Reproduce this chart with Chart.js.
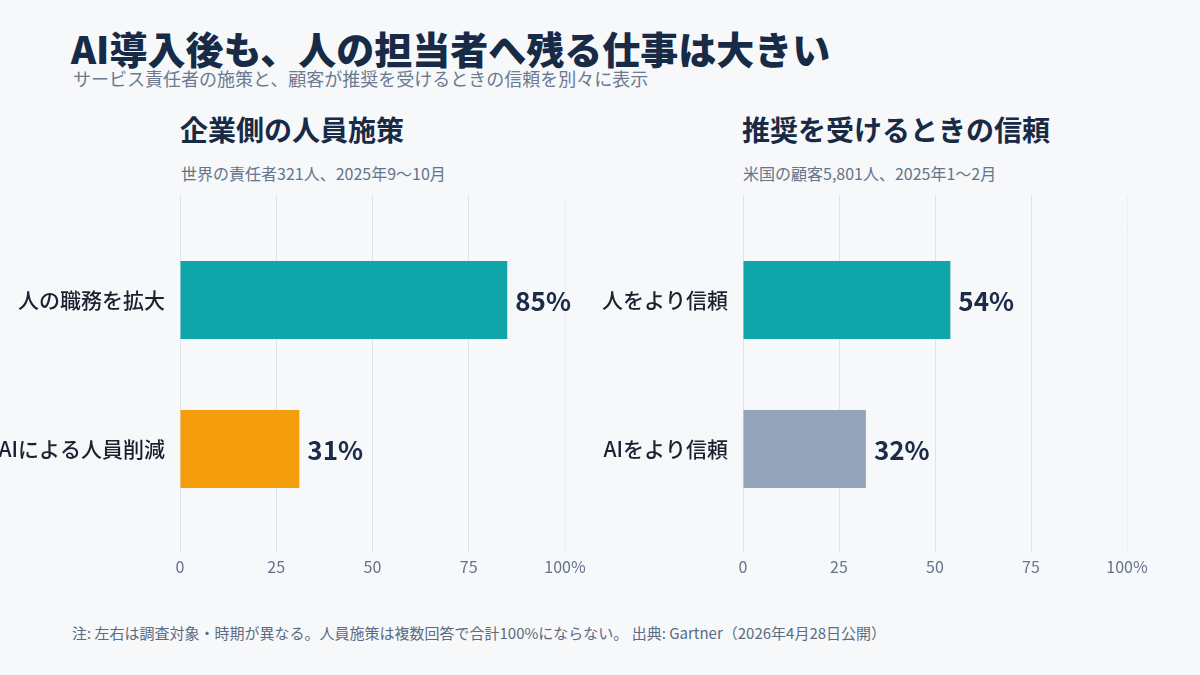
<!DOCTYPE html>
<html lang="ja">
<head>
<meta charset="utf-8">
<script src="https://cdn.jsdelivr.net/npm/chart.js@4.4.1/dist/chart.umd.min.js"></script>
<style>
  html, body { margin: 0; padding: 0; }
  body { width: 1200px; height: 675px; background: #f6f8fa; position: relative; overflow: hidden;
         font-family: "Noto Sans CJK JP", "Noto Sans", sans-serif; }
  .t { position: absolute; white-space: nowrap; line-height: 1; }
  #title { left: 71px; top: 29px; font-size: 38px; font-weight: 900; color: #172a46; }
  #sub { left: 73px; top: 69px; font-size: 18px; color: #6b7a90; }
  .ptitle { font-size: 28px; font-weight: 700; color: #172a46; top: 115px; }
  .psub { font-size: 16px; color: #64748b; top: 165px; }
  #foot { left: 72px; top: 625px; font-size: 15px; color: #5a6b82; }
  canvas { position: absolute; }
</style>
</head>
<body>
<div class="t" id="title">AI導入後も、人の担当者へ残る仕事は大きい</div>
<div class="t" id="sub">サービス責任者の施策と、顧客が推奨を受けるときの信頼を別々に表示</div>
<div class="t ptitle" style="left:180px">企業側の人員施策</div>
<div class="t psub" style="left:181px">世界の責任者321人、2025年9〜10月</div>
<div class="t ptitle" style="left:742px">推奨を受けるときの信頼</div>
<div class="t psub" style="left:743px">米国の顧客5,801人、2025年1〜2月</div>
<div class="t" id="foot">注: 左右は調査対象・時期が異なる。人員施策は複数回答で合計100%にならない。 出典: Gartner（2026年4月28日公開）</div>
<div style="position:absolute;left:0;top:190px;width:600px;height:400px"><canvas id="c1"></canvas></div>
<div style="position:absolute;left:600px;top:190px;width:600px;height:400px"><canvas id="c2"></canvas></div>
<script>
const leftCategories = ['人の職務を拡大', 'AIによる人員削減'];
const leftValues = [85, 31];
const rightCategories = ['人をより信頼', 'AIをより信頼'];
const rightValues = [54, 32];
const xTickValues = [0, 25, 50, 75, 100];
const xMax = 100;

const FONT = '"Noto Sans CJK JP", "Noto Sans", sans-serif';

const valueLabels = {
  id: 'valueLabels',
  afterDatasetsDraw(chart) {
    const ctx = chart.ctx;
    const meta = chart.getDatasetMeta(0);
    const data = chart.data.datasets[0].data;
    ctx.save();
    ctx.font = '700 26px ' + FONT;
    ctx.fillStyle = '#1b2b48';
    ctx.textAlign = 'left';
    ctx.textBaseline = 'middle';
    meta.data.forEach((bar, i) => {
      ctx.fillText(data[i] + '%', bar.x + 8, bar.y + 1);
    });
    ctx.restore();
  }
};

function gridColor(c) {
  return (c.tick && c.tick.value === xMax) ? 'rgba(221,227,234,0.45)' : '#dde3ea';
}

function makeChart(id, labels, values, colors, yWidth, padRight) {
  new Chart(document.getElementById(id), {
    type: 'bar',
    data: {
      labels: labels,
      datasets: [{
        data: values,
        backgroundColor: colors,
        borderWidth: 0,
        barPercentage: 0.523,
        categoryPercentage: 1
      }]
    },
    plugins: [valueLabels],
    options: {
      indexAxis: 'y',
      responsive: true,
      maintainAspectRatio: false,
      animation: false,
      layout: { padding: { left: 0, right: padRight, top: 6, bottom: 6.5 } },
      plugins: { legend: { display: false }, tooltip: { enabled: false } },
      scales: {
        y: {
          type: 'category',
          offset: true,
          grid: { display: false, drawTicks: false },
          border: { display: false },
          ticks: { padding: 15, color: '#1a2230', font: { family: FONT, size: 21, weight: '500' } },
          afterFit(s) { s.width = yWidth; }
        },
        x: {
          type: 'linear',
          position: 'bottom',
          min: 0, max: xMax,
          afterBuildTicks(s) { s.ticks = xTickValues.map(v => ({ value: v })); },
          grid: { color: gridColor, lineWidth: 1, drawTicks: true, tickLength: 29.5, tickColor: gridColor },
          border: { display: false },
          ticks: {
            padding: 4,
            color: '#64748b',
            font: { family: FONT, size: 16 },
            callback: v => (v === xMax ? v + '%' : String(v))
          },
          afterFit(s) { s.height = 60; }
        },
        x2: {
          type: 'linear',
          axis: 'x',
          position: 'top',
          min: 0, max: xMax,
          afterBuildTicks(s) { s.ticks = xTickValues.map(v => ({ value: v })); },
          grid: { drawOnChartArea: false, drawTicks: true, tickLength: 29.5, color: gridColor, tickColor: gridColor },
          border: { display: false },
          ticks: { display: false },
          afterFit(s) { s.height = 29.5; }
        }
      }
    }
  });
}

makeChart('c1', leftCategories, leftValues, ['#0fa5a9', '#f49e0e'], 180, 35);
makeChart('c2', rightCategories, rightValues, ['#0fa5a9', '#95a3b8'], 143, 73);
</script>
</body>
</html>
